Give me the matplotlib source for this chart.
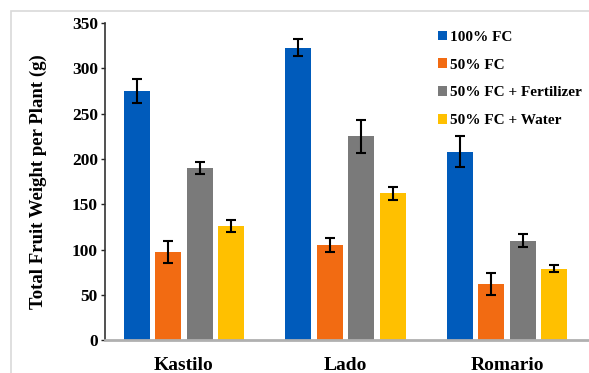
import matplotlib.pyplot as plt
import numpy as np
from matplotlib.patches import Rectangle

cultivars = ["Kastilo", "Lado", "Romario"]
treatments = ["100% FC", "50% FC", "50% FC + Fertilizer", "50% FC + Water"]

fc100 = [275, 323, 208]
fc50 = [97, 105, 62]
fc50_fert = [190, 225, 110]
fc50_water = [126, 162, 79]

err100 = [13, 9, 17]
err50 = [12, 8, 12]
err50_fert = [7, 18, 7]
err50_water = [7, 7, 4]

colors = ["#005bbb", "#f26b12", "#7a7a7a", "#ffc000"]

plt.rcParams['font.family'] = ['Liberation Serif', 'DejaVu Serif']
plt.rcParams['font.weight'] = 'bold'

fig = plt.figure(figsize=(5.89, 3.73), dpi=100)
ax = fig.add_axes([0.178, 0.088, 0.82, 0.85])

# outer frame like the original export
fig.patches.append(Rectangle((11 / 589, -0.1), 1.2, 1.1 - 11 / 373,
                             transform=fig.transFigure, fill=False,
                             edgecolor="#d9d9d9", linewidth=1.2))

x = np.arange(len(cultivars))
w = 0.16
step = 0.195
series = [fc100, fc50, fc50_fert, fc50_water]
errs = [err100, err50, err50_fert, err50_water]

for i in range(4):
    pos = x + (i - 1.5) * step
    ax.bar(pos, series[i], w, color=colors[i], label=treatments[i], zorder=2)
    ax.errorbar(pos, series[i], yerr=errs[i], fmt="none", ecolor="black",
                elinewidth=1.5, capsize=3.5, capthick=1.5, zorder=3)

ax.set_xlim(-0.49, 2.5)
ax.set_ylim(0, 350)
ax.set_yticks(range(0, 351, 50))
ax.set_xticks(x)
ax.set_xticklabels(cultivars, fontsize=14, fontweight="bold")
ax.tick_params(axis="x", length=0, pad=12)
ax.tick_params(axis="y", labelsize=12.5, length=3, width=1, direction="out",
               colors="#222222", pad=2)
for lab in ax.get_yticklabels():
    lab.set_color("black")

ax.spines["top"].set_visible(False)
ax.spines["right"].set_visible(False)
ax.spines["left"].set_color("#333333")
ax.spines["left"].set_linewidth(1.2)
ax.spines["bottom"].set_color("#b0b0b0")
ax.spines["bottom"].set_linewidth(2)

ax.set_ylabel("Total Fruit Weight per Plant (g)", fontsize=13.5, fontweight="bold", labelpad=18)

ax.legend(loc="upper left", bbox_to_anchor=(0.67, 1.005), frameon=False,
          fontsize=11, handlelength=0.6, handleheight=0.6, handletextpad=0.2,
          labelspacing=0.95, borderaxespad=0.2)

fig.savefig("out.png", dpi=100)
